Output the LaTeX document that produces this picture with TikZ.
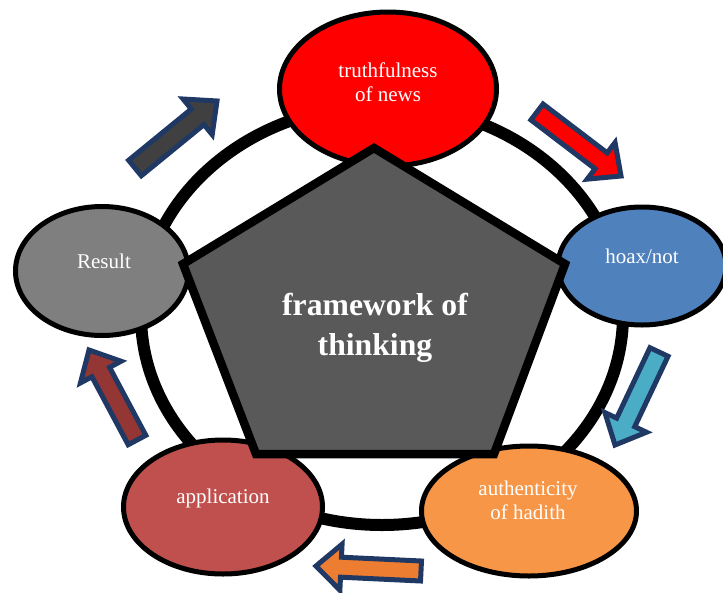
\documentclass[tikz,border=0pt]{standalone}
\usepackage{fontspec}
\setmainfont{Liberation Serif}
\usetikzlibrary{shapes.geometric,calc}
\definecolor{cRed}{HTML}{FF0000}
\definecolor{cBlue}{HTML}{4F81BD}
\definecolor{cGray}{HTML}{7F7F7F}
\definecolor{cApp}{HTML}{C0504D}
\definecolor{cOrange}{HTML}{F79646}
\definecolor{cPent}{HTML}{595959}
\definecolor{cNavy}{HTML}{1F3864}
\definecolor{aGray}{HTML}{404040}
\definecolor{aRed}{HTML}{FF0000}
\definecolor{aBlue}{HTML}{4BACC6}
\definecolor{aOrange}{HTML}{ED7D31}
\definecolor{aBrown}{HTML}{943634}
\tikzset{
  ell/.style={ellipse, draw=black, line width=5pt, inner sep=0pt},
  lbl/.style={text=white, font=\fontsize{21}{24}\selectfont, align=center, inner sep=0pt},
  big/.style={text=white, font=\fontsize{31.7}{40}\selectfont\bfseries, align=center, inner sep=0pt},
  barrow/.style={draw=cNavy, line width=5pt, line join=miter},
  ring/.style={draw=black, line width=12pt},
  pent/.style={draw=black, line width=8.5pt, line join=miter, fill=cPent}
}
\newcommand\blockarrow[3]{%
  \coordinate (#2b) at ($(#3)!25pt!(#2)$);
  \draw[barrow, fill=#1] ($(#2)!10pt!90:(#3)$) -- ($(#2b)!10pt!90:(#3)$) -- ($(#2b)!23pt!90:(#3)$) -- (#3) -- ($(#2b)!23pt!-90:(#3)$) -- ($(#2b)!10pt!-90:(#3)$) -- ($(#2)!10pt!-90:(#3)$) -- cycle;
}
\begin{document}
\begin{tikzpicture}[x=1pt,y=-1pt]
\useasboundingbox (0,0) rectangle (723,592);
% ring
\draw[ring] (382,315) ellipse [x radius=241, y radius=210];
% ellipses
\node[ell, fill=cRed, minimum width=217pt, minimum height=154pt] (truth) at (388,89) {};
\node[ell, fill=cBlue, minimum width=168pt, minimum height=118pt] (hoax) at (642,266) {};
\node[ell, fill=cGray, minimum width=173pt, minimum height=129pt] (result) at (102,271) {};
\node[ell, fill=cApp, minimum width=199pt, minimum height=134pt] (app) at (223,507) {};
\node[ell, fill=cOrange, minimum width=215pt, minimum height=130pt] (auth) at (529,511) {};
% pentagon
\draw[pent] (374,148) coordinate (p1) -- (565,264) coordinate (p2) -- (494,454) coordinate (p3) -- (256,454) coordinate (p4) -- (183,264) coordinate (p5) -- cycle;
% labels
\node[lbl] (ttruth) at (388,82) {truthfulness\\of news};
\node[lbl, anchor=base] (thoax) at (642,263) {hoax/not};
\node[lbl, anchor=base] (tresult) at (104,268) {Result};
\node[lbl, anchor=base] (tapp) at (223,503) {application};
\node[lbl] (tauth) at (528,500) {authenticity\\of hadith};
\node[big] (centre) at (375,328) {framework of\\thinking};
% arrows
\coordinate (g1) at (135,168); \coordinate (g2) at (217,101);
\coordinate (r1) at (537,112); \coordinate (r2) at (621,176);
\coordinate (b1) at (659,352); \coordinate (b2) at (615,445);
\coordinate (o1) at (421,571); \coordinate (o2) at (316,566);
\coordinate (k1) at (137,440); \coordinate (k2) at (89,350);
\blockarrow{aGray}{g1}{g2}
\blockarrow{aRed}{r1}{r2}
\blockarrow{aBlue}{b1}{b2}
\blockarrow{aOrange}{o1}{o2}
\blockarrow{aBrown}{k1}{k2}
\end{tikzpicture}
\end{document}
